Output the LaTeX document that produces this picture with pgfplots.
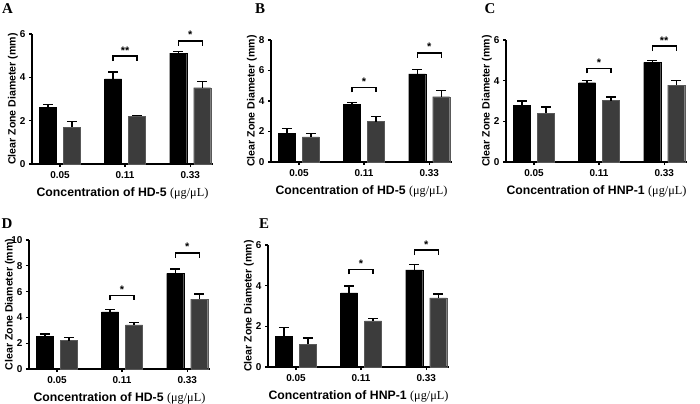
\documentclass[border=0pt]{standalone}
\usepackage{pgfplots}
\pgfplotsset{compat=1.18}
\usepackage{fontspec}
\setmainfont{Liberation Serif}
\setsansfont{Liberation Sans}

\definecolor{barg}{HTML}{3C3C3C}

\newcommand{\sig}[3]{%
  \draw[line width=1.4bp] ([xshift=-12bp,yshift=-5bp]axis cs:#1,#2) -- ([xshift=-12bp]axis cs:#1,#2) -- ([xshift=12bp]axis cs:#1,#2) -- ([xshift=12bp,yshift=-5bp]axis cs:#1,#2);
  \node[anchor=base, inner sep=0pt, font=\fontsize{11}{11}\selectfont\sffamily\bfseries] at ([yshift=2bp]axis cs:#1,#2) {#3};
}

\pgfplotsset{
  panel/.style={
    ybar, bar width=17bp,
    scale only axis, width=181bp,
    xmin=-0.43, xmax=2.35, ymin=0,
    axis x line*=bottom, axis y line*=left,
    axis line style={line width=1.7bp},
    xtick={0,1,2}, xticklabels={0.05,0.11,0.33},
    tick style={line width=1.3bp, black},
    major tick length=3bp,
    tick align=outside,
    ticklabel style={font=\fontsize{10}{11}\selectfont\sffamily\bfseries},
    xticklabel style={yshift=-1bp},
    /pgf/number format/assume math mode=true,
    ylabel={Clear Zone Diameter (mm)},
    ylabel style={font=\fontsize{10.6}{12}\selectfont\sffamily\bfseries, at={([xshift=-19bp]axis description cs:0,0.5)}, anchor=center},
    xlabel style={font=\fontsize{12.3}{14}\selectfont, at={([yshift=-29bp]axis description cs:0.5,0)}, anchor=center},
    clip=false,
    anchor=south west,
  },
  blk/.style={bar shift=-12bp, fill=black, draw=black,
    error bars/.cd, y dir=plus, y explicit,
    error bar style={line width=1.4bp, black},
    error mark options={line width=1.4bp, mark size=5bp, black, rotate=90}},
  gry/.style={bar shift=12bp, fill=barg, draw=black!65,
    error bars/.cd, y dir=plus, y explicit,
    error bar style={line width=1.4bp, black},
    error mark options={line width=1.4bp, mark size=5bp, black, rotate=90}},
}

\newcommand{\hdlab}{{\sffamily\bfseries Concentration of HD-5 }{\rmfamily(μg/μL)}}
\newcommand{\hnplab}{{\sffamily\bfseries Concentration of HNP-1 }{\rmfamily(μg/μL)}}

\begin{document}
\begin{tikzpicture}
\path[use as bounding box] (0,0) rectangle (700bp,404bp);

% A
\begin{axis}[panel, at={(32bp,240bp)}, height=130bp, ymax=6, ytick={0,2,4,6}, xlabel={\hdlab}]
\addplot[blk] coordinates {(0,2.6) +- (0,0.15) (1,3.93) +- (0,0.32) (2,5.12) +- (0,0.07)};
\addplot[gry] coordinates {(0,1.7) +- (0,0.27) (1,2.2) +- (0,0.05) (2,3.52) +- (0,0.28)};
\sig{1}{4.98}{**}
\sig{2}{5.68}{*}
\end{axis}

% B
\begin{axis}[panel, at={(271bp,242bp)}, height=122bp, ymax=8, ytick={0,2,4,6,8}, xlabel={\hdlab}]
\addplot[blk] coordinates {(0,1.9) +- (0,0.3) (1,3.78) +- (0,0.12) (2,5.78) +- (0,0.27)};
\addplot[gry] coordinates {(0,1.65) +- (0,0.2) (1,2.65) +- (0,0.35) (2,4.28) +- (0,0.4)};
\sig{1}{4.9}{*}
\sig{2}{7.15}{*}
\end{axis}

% C
\begin{axis}[panel, at={(506bp,242bp)}, height=122bp, ymax=6, ytick={0,2,4,6}, xlabel={\hnplab}]
\addplot[blk] coordinates {(0,2.78) +- (0,0.22) (1,3.9) +- (0,0.1) (2,4.9) +- (0,0.1)};
\addplot[gry] coordinates {(0,2.4) +- (0,0.3) (1,3.02) +- (0,0.18) (2,3.78) +- (0,0.22)};
\sig{1}{4.6}{*}
\sig{2}{5.7}{**}
\end{axis}

% D
\begin{axis}[panel, at={(29bp,35bp)}, height=129bp, ymax=10, ytick={0,2,4,6,8,10}, xlabel={\hdlab}]
\addplot[blk] coordinates {(0,2.55) +- (0,0.15) (1,4.42) +- (0,0.2) (2,7.42) +- (0,0.33)};
\addplot[gry] coordinates {(0,2.2) +- (0,0.25) (1,3.42) +- (0,0.2) (2,5.42) +- (0,0.4)};
\sig{1}{5.7}{*}
\sig{2}{9.0}{*}
\end{axis}

% E
\begin{axis}[panel, at={(268bp,37bp)}, height=122bp, ymax=6, ytick={0,2,4,6}, xlabel={\hnplab}]
\addplot[blk] coordinates {(0,1.52) +- (0,0.43) (1,3.65) +- (0,0.33) (2,4.78) +- (0,0.27)};
\addplot[gry] coordinates {(0,1.13) +- (0,0.29) (1,2.27) +- (0,0.11) (2,3.4) +- (0,0.2)};
\sig{1}{4.8}{*}
\sig{2}{5.75}{*}
\end{axis}

\node[font=\fontsize{15}{15}\selectfont\bfseries] at (7.5bp,395bp) {A};
\node[font=\fontsize{15}{15}\selectfont\bfseries] at (260bp,395bp) {B};
\node[font=\fontsize{15}{15}\selectfont\bfseries] at (490bp,395bp) {C};
\node[font=\fontsize{15}{15}\selectfont\bfseries] at (7bp,180bp) {D};
\node[font=\fontsize{15}{15}\selectfont\bfseries] at (264bp,180bp) {E};
\end{tikzpicture}
\end{document}
